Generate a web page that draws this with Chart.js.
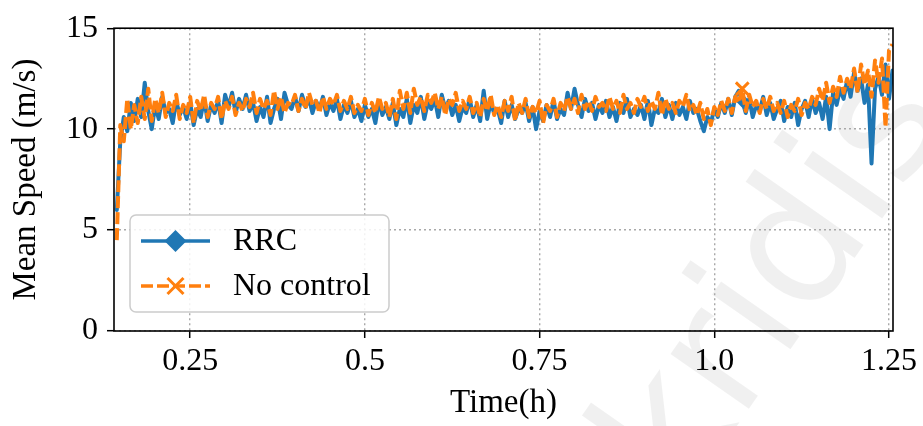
<!DOCTYPE html>
<html>
<head>
<meta charset="utf-8">
<title>Mean Speed</title>
<script src="https://cdn.jsdelivr.net/npm/chart.js@4.4.1/dist/chart.umd.min.js"></script>
<style>
  html, body { margin: 0; padding: 0; background: #fff; }
  #wrap { width: 923px; height: 426px; position: relative; }
</style>
</head>
<body>
<div id="wrap"><canvas id="speedChart"></canvas></div>
<script>
// sampling grid of the simulation (hours)
const startTime = 0.145;
const timeStep = 0.005;

// mean speed (m/s)
const rrcSpeed = [
  6.0, 9.4, 10.6, 9.9, 11.3, 10.4, 11.5, 10.6, 12.3, 10.9,
  10.0, 11.2, 10.5, 11.6, 10.8, 11.0, 10.3, 11.4, 10.7, 11.1,
  10.5, 11.3, 10.2, 11.0, 10.6, 11.5, 10.4, 11.2, 10.8, 11.4,
  10.3, 11.7, 11.1, 11.8, 10.8, 11.5, 11.0, 11.7, 10.9, 11.3,
  10.4, 11.1, 10.6, 11.6, 10.3, 11.0, 11.5, 10.5, 11.8, 11.2,
  11.0, 11.6, 10.9, 11.7, 11.1, 11.5, 10.8, 11.4, 11.0, 11.6,
  10.7, 11.3, 10.9, 11.5, 10.5, 11.2, 10.8, 11.4, 10.6, 11.0,
  10.4, 11.2, 10.6, 11.0, 10.3, 11.4, 10.7, 11.1, 10.5, 11.3,
  10.2, 11.0, 10.6, 11.5, 10.3, 11.2, 10.8, 11.6, 10.5, 11.3,
  11.0, 11.5, 10.6, 11.7, 11.0, 11.4, 10.7, 11.2, 10.4, 11.1,
  10.8, 11.5, 10.6, 11.2, 10.4, 11.9, 10.5, 11.3, 10.8, 11.0,
  10.3, 11.4, 10.6, 11.2, 10.5, 11.0, 10.8, 11.3, 10.4, 11.1,
  10.0, 10.9, 10.4, 11.2, 10.6, 11.4, 10.5, 11.0, 10.7, 11.8,
  11.0, 12.0, 11.2, 10.6, 11.5, 10.9, 11.3, 10.5, 11.2, 10.8,
  11.4, 10.6, 11.1, 10.4, 11.3, 10.8, 11.5, 10.6, 11.0, 10.7,
  11.2, 10.5, 11.4, 10.2, 11.0, 10.8, 11.5, 10.6, 11.2, 10.5,
  11.3, 10.7, 11.1, 10.5, 11.4, 10.8, 11.0, 10.4, 9.9, 10.6,
  10.3, 11.0, 10.6, 11.3, 10.8, 11.5, 10.7, 11.6, 11.9, 11.4,
  10.8, 11.5, 10.6, 11.2, 10.9, 11.6, 10.7, 11.3, 10.5, 11.0,
  11.4, 10.4, 11.1, 10.6, 11.3, 10.2, 11.0, 11.4, 10.6, 11.5,
  10.8, 11.3, 10.5, 11.6, 10.0, 11.8, 11.2, 12.0, 11.5, 12.4,
  11.6, 12.8, 11.9, 12.5, 11.3, 12.2, 8.3, 12.0, 12.6, 11.7,
  13.2, 11.5, 12.9
];
const noControlSpeed = [
  4.5, 10.2, 9.4, 11.5, 10.0, 11.2, 10.3, 11.6, 10.5, 12.0,
  10.4, 11.5, 10.8, 11.8, 10.6, 11.3, 10.9, 11.7, 10.5, 11.2,
  10.8, 11.6, 10.3, 11.4, 10.9, 11.7, 10.6, 11.3, 11.0, 11.6,
  10.5, 11.4, 11.0, 11.6, 10.7, 11.3, 10.9, 11.5, 11.1, 11.8,
  10.8, 11.5, 11.0, 11.4, 10.7, 11.9, 11.0, 11.6, 10.8, 11.3,
  11.2, 11.7, 10.9, 11.5, 11.0, 11.8, 11.2, 11.4, 10.8, 11.6,
  11.0, 11.5, 11.2, 11.7, 10.9, 11.4, 11.0, 11.6, 10.8, 11.2,
  10.9, 11.5, 10.7, 11.3, 10.8, 11.6, 11.0, 11.3, 10.6, 11.5,
  10.5, 11.9, 11.0, 11.8, 10.8, 12.0, 11.2, 11.6, 10.9, 11.7,
  11.3, 11.8, 11.0, 11.6, 10.7, 11.5, 11.2, 11.8, 10.9, 11.4,
  11.0, 11.6, 10.8, 11.3, 10.6, 11.5, 10.9, 11.7, 10.7, 11.2,
  10.6, 11.4, 10.9, 11.6, 10.4, 11.3, 10.8, 11.5, 10.6, 11.1,
  10.8, 11.4, 10.3, 11.2, 10.9, 11.5, 10.6, 11.3, 10.9, 11.6,
  11.0, 11.5, 10.8, 11.7, 11.0, 11.4, 10.9, 11.6, 11.1, 11.3,
  10.9, 11.6, 11.0, 11.4, 10.8, 11.7, 11.0, 11.3, 10.8, 11.5,
  11.1, 11.6, 10.9, 11.4, 11.0, 11.8, 10.7, 11.5, 11.0, 11.3,
  10.8, 11.4, 11.1, 11.7, 10.9, 11.2, 10.7, 11.3, 10.5, 11.0,
  10.2, 11.1, 10.7, 11.4, 10.9, 11.5, 10.8, 11.6, 11.3, 12.0,
  10.9, 11.7, 11.1, 11.4, 10.8, 11.5, 11.0, 11.6, 10.9, 11.3,
  10.8, 11.4, 10.6, 11.2, 10.9, 11.5, 10.7, 11.3, 11.0, 11.6,
  11.2, 12.0, 11.4, 12.3, 11.3, 12.1, 11.6, 12.6, 11.8, 12.5,
  12.0, 13.0, 11.8, 13.2, 12.2, 12.9, 11.6, 13.4, 12.3, 13.5,
  10.1, 13.9, 14.2
];
// the single marker matplotlib left on each line (markevery)
const markerIndex = 179;

const xTickValues = [0.25, 0.5, 0.75, 1.0, 1.25];
const xTickLabels = ['0.25', '0.5', '0.75', '1.0', '1.25'];
const yTickValues = [0, 5, 10, 15];

const seriesNames = ['RRC', 'No control'];
const seriesColors = ['#1f77b4', '#ff7f0e'];

const FONT = "'Liberation Serif', 'Times New Roman', serif";

function toPoints(values) {
    return values.map((v, i) => ({ x: startTime + i * timeStep, y: v }));
}

// white background + faint watermark
const backgroundPlugin = {
    id: 'background',
    beforeDraw(chart) {
        const ctx = chart.ctx;
        ctx.save();
        ctx.fillStyle = '#ffffff';
        ctx.fillRect(0, 0, chart.width, chart.height);
        ctx.translate(780, 285);
        ctx.rotate(-55 * Math.PI / 180);
        ctx.font = "175px 'DejaVu Sans', sans-serif";
        ctx.fillStyle = 'rgba(0, 0, 0, 0.06)';
        ctx.textAlign = 'center';
        ctx.textBaseline = 'middle';
        ctx.fillText('kridis', 0, 0);
        ctx.restore();
    }
};

// black box round the plot area, like matplotlib spines
const framePlugin = {
    id: 'frame',
    afterDatasetsDraw(chart) {
        const a = chart.chartArea;
        const ctx = chart.ctx;
        ctx.save();
        ctx.strokeStyle = '#000';
        ctx.lineWidth = 1.6;
        ctx.strokeRect(a.left, a.top, a.right - a.left, a.bottom - a.top);
        ctx.restore();
    }
};

// legend box inside the axes, lower left
const insideLegendPlugin = {
    id: 'insideLegend',
    afterDraw(chart) {
        const a = chart.chartArea;
        const ctx = chart.ctx;
        const x0 = a.left + 16, y0 = a.bottom - 116;
        const w = 259, h = 97;
        ctx.save();
        ctx.beginPath();
        ctx.roundRect(x0, y0, w, h, 6);
        ctx.fillStyle = 'rgba(255,255,255,0.85)';
        ctx.fill();
        ctx.strokeStyle = '#cccccc';
        ctx.lineWidth = 1.5;
        ctx.stroke();

        chart.data.datasets.forEach((ds, i) => {
            const cy = y0 + 26 + i * 45;
            const lx0 = x0 + 11, lx1 = x0 + 80, mx = (lx0 + lx1) / 2;
            ctx.strokeStyle = ds.borderColor;
            ctx.lineWidth = 3.5;
            ctx.setLineDash(ds.borderDash || []);
            ctx.beginPath();
            ctx.moveTo(lx0, cy);
            ctx.lineTo(lx1, cy);
            ctx.stroke();
            ctx.setLineDash([]);
            if (ds.pointStyle === 'rectRot') {
                ctx.fillStyle = ds.borderColor;
                ctx.beginPath();
                ctx.moveTo(mx, cy - 11);
                ctx.lineTo(mx + 11, cy);
                ctx.lineTo(mx, cy + 11);
                ctx.lineTo(mx - 11, cy);
                ctx.closePath();
                ctx.fill();
            } else {
                ctx.lineWidth = 3;
                ctx.beginPath();
                ctx.moveTo(mx - 8, cy - 8); ctx.lineTo(mx + 8, cy + 8);
                ctx.moveTo(mx - 8, cy + 8); ctx.lineTo(mx + 8, cy - 8);
                ctx.stroke();
            }
            ctx.fillStyle = '#000';
            ctx.font = '32px ' + FONT;
            ctx.textAlign = 'left';
            ctx.textBaseline = 'middle';
            ctx.fillText(ds.label, x0 + 103, cy + 1);
        });
        ctx.restore();
    }
};

const gridStyle = {
    color: '#a8a8a8',
    lineWidth: 1.4,
    tickColor: '#000',
    tickLength: 7,
    tickWidth: 1.5,
    tickBorderDash: []
};

const ctx = document.getElementById('speedChart').getContext('2d');
const speedChart = new Chart(ctx, {
    type: 'line',
    data: {
        datasets: [
            {
                label: seriesNames[0],
                data: toPoints(rrcSpeed),
                borderColor: seriesColors[0],
                backgroundColor: seriesColors[0],
                borderWidth: 4,
                borderJoinStyle: 'round',
                borderCapStyle: 'round',
                pointStyle: 'rectRot',
                pointRadius: c => c.dataIndex === markerIndex ? 7 : 0,
                pointBorderWidth: 0,
                order: 2
            },
            {
                label: seriesNames[1],
                data: toPoints(noControlSpeed),
                borderColor: seriesColors[1],
                backgroundColor: seriesColors[1],
                borderWidth: 4,
                borderJoinStyle: 'round',
                borderDash: [12, 4],
                pointStyle: 'crossRot',
                pointRadius: c => c.dataIndex === markerIndex ? 9 : 0,
                pointBorderWidth: 3,
                order: 1
            }
        ]
    },
    options: {
        responsive: true,
        maintainAspectRatio: false,
        devicePixelRatio: 1,
        animation: false,
        layout: { padding: { top: 17, right: 30, left: 0, bottom: 0 } },
        plugins: {
            legend: { display: false },
            tooltip: { enabled: false }
        },
        elements: { line: { tension: 0 } },
        scales: {
            x: {
                type: 'linear',
                min: 0.141,
                max: 1.2557,
                afterBuildTicks: s => { s.ticks = xTickValues.map(v => ({ value: v })); },
                afterFit: s => { s.height = 95; },
                ticks: {
                    autoSkip: false,
                    maxRotation: 0,
                    padding: 4,
                    color: '#000',
                    font: { family: FONT, size: 32 },
                    callback: (v, i) => xTickLabels[i]
                },
                grid: gridStyle,
                border: { display: false, dash: [2, 3] },
                title: {
                    display: true,
                    text: 'Time(h)',
                    color: '#000',
                    font: { family: FONT, size: 33 },
                    padding: { top: 0, bottom: 3 }
                }
            },
            y: {
                min: 0,
                max: 15,
                afterBuildTicks: s => { s.ticks = yTickValues.map(v => ({ value: v })); },
                afterFit: s => { s.width = 114; },
                ticks: {
                    padding: 9,
                    color: '#000',
                    font: { family: FONT, size: 32 },
                    callback: v => String(v)
                },
                grid: gridStyle,
                border: { display: false, dash: [2, 3] },
                title: {
                    display: true,
                    text: 'Mean Speed (m/s)',
                    color: '#000',
                    font: { family: FONT, size: 33 },
                    padding: { top: 7, bottom: 0 }
                }
            }
        }
    },
    plugins: [backgroundPlugin, framePlugin, insideLegendPlugin]
});
</script>
</body>
</html>
